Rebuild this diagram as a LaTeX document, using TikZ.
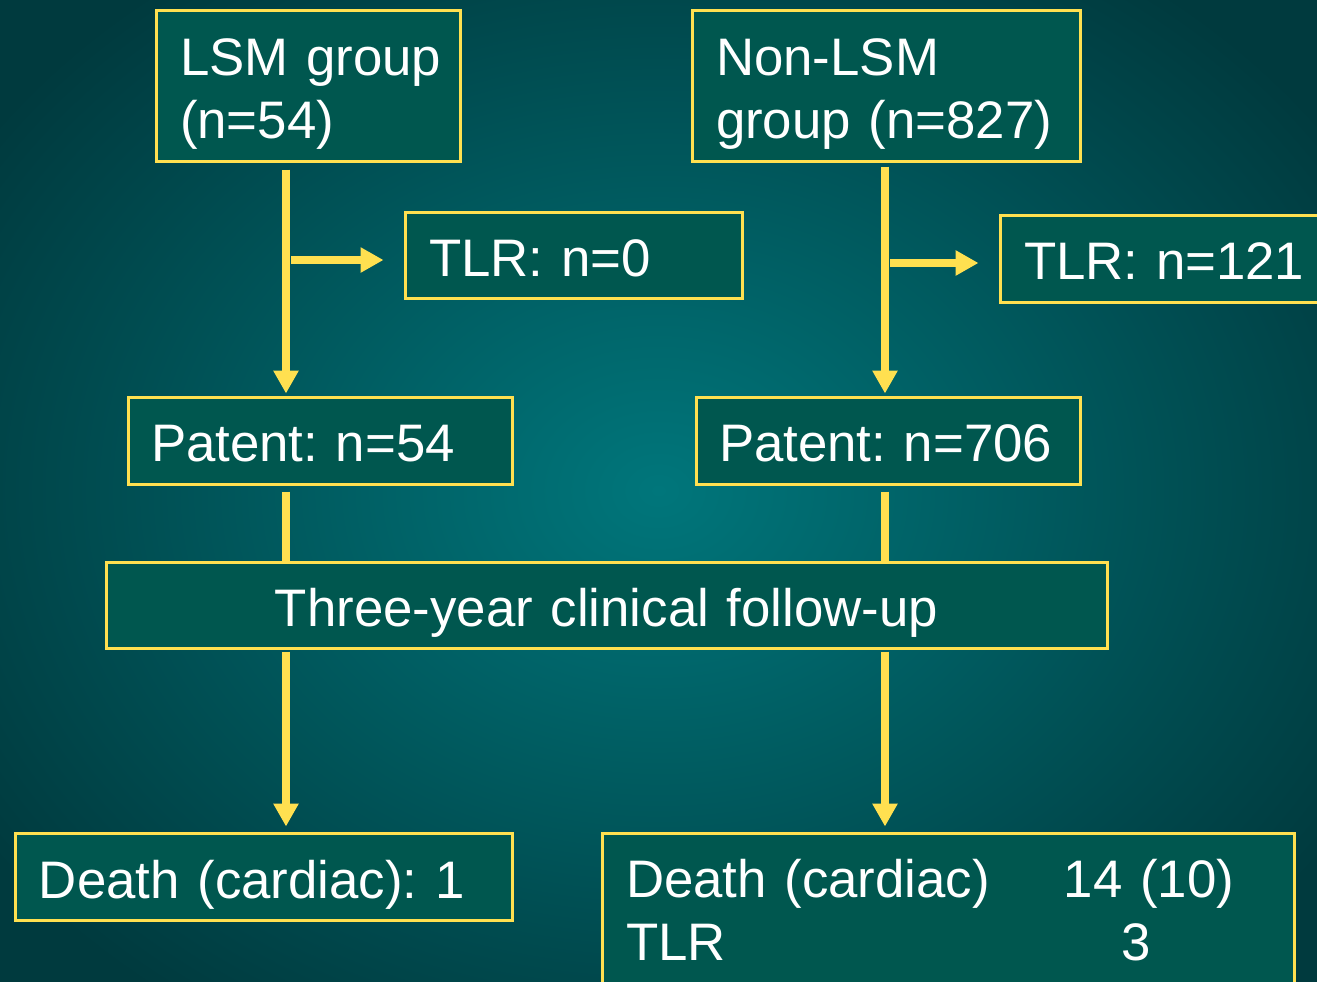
\documentclass[tikz,border=0pt]{standalone}
\usepackage{fontspec}
\setmainfont{Liberation Sans}
\usetikzlibrary{arrows.meta,calc}
\definecolor{bgin}{HTML}{00767B}
\definecolor{bgout}{HTML}{003A3E}
\definecolor{boxfill}{HTML}{00574F}
\definecolor{ylw}{HTML}{FFE050}
\frenchspacing
\begin{document}
\begin{tikzpicture}[x=0.5pt,y=-0.5pt,
  box/.style={draw=ylw, line width=1.5pt, fill=boxfill, text=white,
    font=\fontsize{26.4}{31.5}\selectfont\frenchspacing, inner xsep=12pt, inner ysep=0pt,
    align=left, anchor=center, text height=21pt, text depth=0pt},
  twoline/.style={text height=0pt, text depth=10.5pt},
  link/.style={draw=ylw, line width=4pt},
  conn/.style={link, -{Triangle[length=11.5pt,width=12pt]}}]
\useasboundingbox (0,0) rectangle (1317,981);
\clip (0,0) rectangle (1317,981);
\shade[inner color=bgin, outer color=bgout] (-150,-150) rectangle (1467,1131);
\coordinate (lx) at (286,0);
\coordinate (rx) at (885,0);
\node[box, twoline, minimum width=152pt, text width=128pt, minimum height=75.5pt] (lsm) at (308,85.5) {\mbox{LSM group}\\\mbox{(n=54)}};
\node[box, twoline, minimum width=194pt, text width=170pt, minimum height=75.5pt] (nonlsm) at (886,85.5) {\mbox{Non-LSM}\\\mbox{group (n=827)}};
\node[box, minimum width=168.5pt, text width=144.5pt, minimum height=43pt] (tlr0) at (573.5,255) {\mbox{TLR: n=0}};
\node[box, minimum width=170pt, text width=146pt, minimum height=43.5pt] (tlr121) at (1170,258.5) {\mbox{TLR: n=121}};
\node[box, minimum width=192pt, text width=169pt, minimum height=43.5pt, inner xsep=11.5pt] (p54) at (320,440.5) {\mbox{Patent: n=54}};
\node[box, minimum width=192pt, text width=169pt, minimum height=43.5pt, inner xsep=11.5pt] (p706) at (888,440.5) {\mbox{Patent: n=706}};
\node[box, minimum width=500.5pt, text width=476.5pt, minimum height=43pt, align=center, text height=21.5pt] (three) at (606.5,605) {\mbox{Three-year clinical follow-up}};
\node[box, minimum width=248.5pt, text width=224.5pt, minimum height=43.5pt, inner xsep=11.5pt, text height=21.5pt] (d1) at (263.5,876.5) {\mbox{Death (cardiac): 1}};
\node[box, text height=51pt, minimum width=346pt, text width=322pt, minimum height=76pt, inner xsep=11.5pt] (dr) at (948,909)
  {\begin{tabular}[b]{@{}l@{\hspace{37pt}}c@{}}Death (cardiac) & 14 (10)\\ TLR & 3\kern13pt\end{tabular}};
% left column
\draw[conn, shorten <=3.5pt, shorten >=1pt] (lsm.south -| lx) -- (p54.north -| lx);
\draw[conn, shorten <=2.5pt, shorten >=10pt] ([yshift=-2.5pt]tlr0.west -| lx) -- ([yshift=-2.5pt]tlr0.west);
\draw[link, shorten <=3pt] (p54.south -| lx) -- (three.north -| lx);
\draw[conn, shorten <=1pt, shorten >=2.5pt] (three.south -| lx) -- (d1.north -| lx);
% right column
\draw[conn, shorten <=2pt, shorten >=1pt] (nonlsm.south -| rx) -- (p706.north -| rx);
\draw[conn, shorten <=2.5pt, shorten >=10pt] ([yshift=-2.25pt]tlr121.west -| rx) -- ([yshift=-2.25pt]tlr121.west);
\draw[link, shorten <=3pt] (p706.south -| rx) -- (three.north -| rx);
\draw[conn, shorten <=1pt, shorten >=2.5pt] (three.south -| rx) -- (dr.north -| rx);
\end{tikzpicture}
\end{document}
